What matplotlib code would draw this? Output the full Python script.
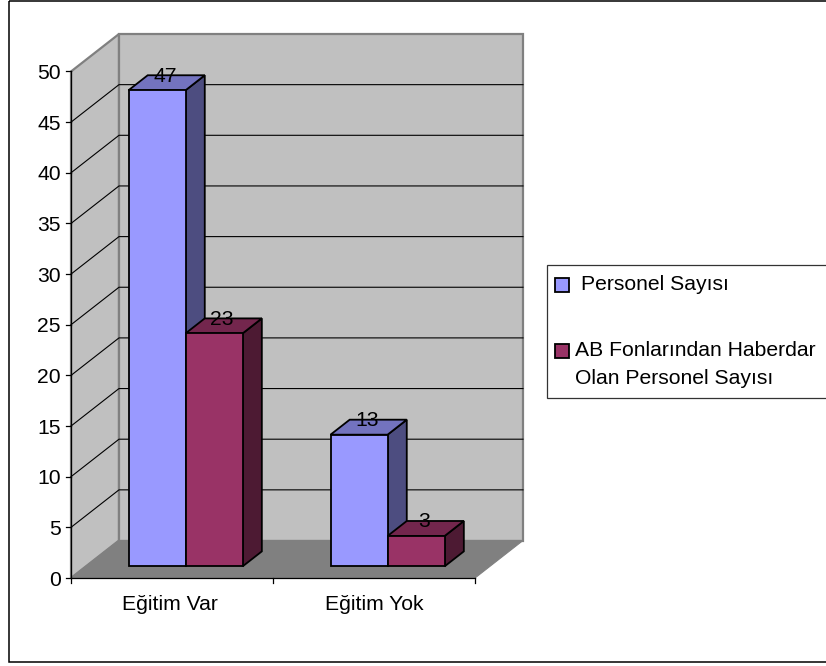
#! usr/bin/env python3

import matplotlib
matplotlib.use('Agg')
import matplotlib.pyplot as plt
from matplotlib.patches import Polygon, Rectangle

plt.rcParams['font.family'] = ['Liberation Sans', 'DejaVu Sans']

categories = ['Eğitim Var', 'Eğitim Yok']
series_names = ['Personel Sayısı', 'AB Fonlarından Haberdar\nOlan Personel Sayısı']
personel = [47, 13]
haberdar = [23, 3]
y_ticks = [0, 5, 10, 15, 20, 25, 30, 35, 40, 45, 50]

# layout in pixels of the picture
W, H = 826, 666
X0, Y0 = 71, 578
CAT_W = 202
UNIT = 10.13
DEPTH_X, DEPTH_Y = 48, 37.5
BAR_LEFT = 0.211
BAR_W = 0.2825
BAR_DEPTH = (0.31, 0.71)

colors = {'front': ['#9999FF', '#993366'],
          'side': ['#4D4D80', '#4D1A33'],
          'top': ['#7373BF', '#73264D']}
WALL = '#C0C0C0'
FLOOR = '#808080'
FS = 15.2


def pt(cat, val, depth=0.0):
    # category units, value units and depth 0-1 to picture pixels
    return (X0 + cat * CAT_W + depth * DEPTH_X, Y0 - val * UNIT - depth * DEPTH_Y)


def poly(ax, pts, color, edge, lw, z):
    ax.add_patch(Polygon(pts, closed=True, facecolor=color, edgecolor=edge,
                         linewidth=lw, joinstyle='miter', zorder=z))


fig = plt.figure(figsize=(W / 100, H / 100), dpi=100)
ax = fig.add_axes([0, 0, 1, 1])
ax.set_xlim(0, W)
ax.set_ylim(H, 0)
ax.axis('off')

# outer frame
ax.add_patch(Rectangle((8.5, 0.5), W + 5, 661.5, fill=False, edgecolor='black', linewidth=1.1, zorder=1))

# walls and floor
n = len(categories)
top = y_ticks[-1]
poly(ax, [pt(0, 0), pt(0, top), pt(0, top, 1), pt(0, 0, 1)], WALL, FLOOR, 1.6, 2)
poly(ax, [pt(0, 0, 1), pt(0, top, 1), pt(n, top, 1), pt(n, 0, 1)], WALL, FLOOR, 1.6, 2)
poly(ax, [pt(0, 0), pt(0, 0, 1), pt(n, 0, 1), pt(n, 0)], FLOOR, FLOOR, 0.8, 3)

# grid lines
for v in y_ticks[1:-1]:
    xs, ys = zip(pt(0, v), pt(0, v, 1), pt(n, v, 1))
    ax.plot(xs, ys, color='black', linewidth=0.8, zorder=4)

# axes and ticks
xs, ys = zip(pt(0, 0), pt(0, top))
ax.plot(xs, ys, color='black', linewidth=0.9, zorder=5)
xs, ys = zip(pt(0, 0), pt(n, 0))
ax.plot(xs, ys, color='black', linewidth=0.9, zorder=5)
for v in y_ticks:
    x, y = pt(0, v)
    ax.plot([x - 5, x], [y, y], color='black', linewidth=0.9, zorder=5)
    ax.text(x - 10, y, str(v), ha='right', va='center_baseline', fontsize=FS, color='black')
for i in range(n + 1):
    x, y = pt(i, 0)
    ax.plot([x, x], [y, y + 5], color='black', linewidth=0.9, zorder=5)
for i, name in enumerate(categories):
    x, y = pt(i + 0.5, 0)
    ax.text(x - 2 + i * 2, 602, name, ha='center', va='center_baseline', fontsize=FS, color='black')

# bars
z = 6
for i in range(n):
    for s, vals in enumerate([personel, haberdar]):
        v = vals[i]
        c0 = i + BAR_LEFT + s * BAR_W
        c1 = c0 + BAR_W
        d0, d1 = BAR_DEPTH
        poly(ax, [pt(c1, 0, d0), pt(c1, v, d0), pt(c1, v, d1), pt(c1, 0, d1)], colors['side'][s], 'black', 1.3, z)
        poly(ax, [pt(c0, v, d0), pt(c0, v, d1), pt(c1, v, d1), pt(c1, v, d0)], colors['top'][s], 'black', 1.3, z)
        poly(ax, [pt(c0, 0, d0), pt(c0, v, d0), pt(c1, v, d0), pt(c1, 0, d0)], colors['front'][s], 'black', 1.3, z)
        z += 1
        x, y = pt((c0 + c1) / 2, v, d0)
        ax.text(x + 8, y - 16, str(v), ha='center', va='center_baseline', fontsize=FS, color='black', zorder=30)

# legend
ax.add_patch(Rectangle((547, 264.5), W, 133, facecolor='white', edgecolor='#333333', linewidth=0.9, zorder=20))
for s, y in enumerate([285, 351]):
    ax.add_patch(Rectangle((554.5, y - 7), 14.5, 14, facecolor=colors['front'][s], edgecolor='black',
                           linewidth=1.3, zorder=21))
ax.text(581, 283, series_names[0], ha='left', va='center_baseline', fontsize=FS, color='black', zorder=21)
ax.text(575, 364.5, series_names[1], ha='left', va='center', fontsize=FS, color='black', zorder=21,
        linespacing=1.62)

fig.savefig('out.png', dpi=100)
plt.close()
